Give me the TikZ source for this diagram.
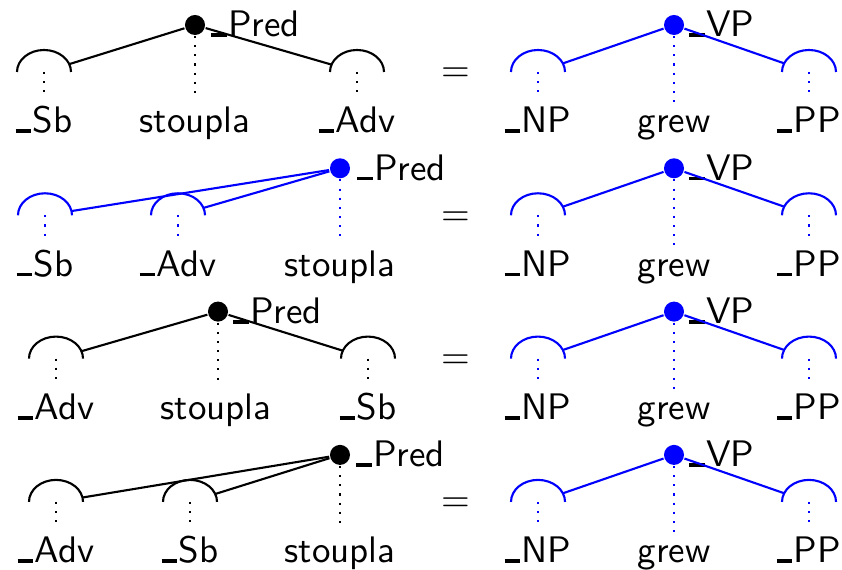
\documentclass[tikz,border=0pt]{standalone}
\usetikzlibrary{shapes.geometric}

\newcommand{\usc}{\rule{0.42em}{0.1em}\kern0.04em}

\tikzset{
  every node/.style={font=\sffamily\fontsize{10.5}{12.6}\selectfont},
  cup/.style={ellipse, minimum width=0.54cm, minimum height=0.44cm, inner sep=0pt, outer sep=0pt},
  headdot/.style={circle, fill, inner sep=0pt, minimum size=0.2cm},
  word/.style={anchor=base, inner sep=2pt},
  tag/.style={anchor=base west, inner sep=0pt}
}

\begin{document}
\begin{tikzpicture}[x=0.01cm, y=-0.01cm, line width=0.6pt]
  \useasboundingbox (0,0) rectangle (842,570);

  % _Sb stoupla _Adv
  \node[cup] (sb1) at (44,72) {};
  \node[cup] (adv1) at (357,72) {};
  \node[headdot] (p1) at (195,25) {};
  \node[tag] (pt1) at (210,37) {\usc Pred};
  \node[word] (sbw1) at (44,133) {\usc Sb};
  \node[word] (pw1) at (195,133) {stoupla};
  \node[word] (advw1) at (357,133) {\usc Adv};
  \foreach \n in {sb1,adv1}
    \draw (\n.east) arc[start angle=0, end angle=180, x radius=0.27cm, y radius=0.22cm];
  \draw (p1) -- (sb1);
  \draw (p1) -- (adv1);
  \draw[dotted] (sb1.center) -- (sbw1);
  \draw[dotted] (p1) -- (pw1);
  \draw[dotted] (adv1.center) -- (advw1);

  % _Sb _Adv stoupla
  \begin{scope}[shift={(0,143.3)}]
    \node[cup] (sb2) at (45,72) {};
    \node[cup] (adv2) at (178,72) {};
    \node[headdot, fill=blue] (p2) at (340,25) {};
    \node[tag] (pt2) at (356,37) {\usc Pred};
    \node[word] (sbw2) at (45,133) {\usc Sb};
    \node[word] (advw2) at (178,133) {\usc Adv};
    \node[word] (pw2) at (340,133) {stoupla};
    \foreach \n in {sb2,adv2}
      \draw[blue] (\n.east) arc[start angle=0, end angle=180, x radius=0.27cm, y radius=0.22cm];
    \draw[blue] (p2) -- (sb2);
    \draw[blue] (p2) -- (adv2);
    \draw[blue, dotted] (sb2.center) -- (sbw2);
    \draw[blue, dotted] (adv2.center) -- (advw2);
    \draw[blue, dotted] (p2) -- (pw2);
  \end{scope}

  % _Adv stoupla _Sb
  \begin{scope}[shift={(0,286.6)}]
    \node[cup] (adv3) at (56,72) {};
    \node[cup] (sb3) at (368,72) {};
    \node[headdot] (p3) at (218,25) {};
    \node[tag] (pt3) at (232,37) {\usc Pred};
    \node[word] (advw3) at (56,133) {\usc Adv};
    \node[word] (pw3) at (216,133) {stoupla};
    \node[word] (sbw3) at (368,133) {\usc Sb};
    \foreach \n in {adv3,sb3}
      \draw (\n.east) arc[start angle=0, end angle=180, x radius=0.27cm, y radius=0.22cm];
    \draw (p3) -- (adv3);
    \draw (p3) -- (sb3);
    \draw[dotted] (adv3.center) -- (advw3);
    \draw[dotted] (p3) -- (p3 |- pw3.north);
    \draw[dotted] (sb3.center) -- (sbw3);
  \end{scope}

  % _Adv _Sb stoupla
  \begin{scope}[shift={(0,429.9)}]
    \node[cup] (adv4) at (56,72) {};
    \node[cup] (sb4) at (190,72) {};
    \node[headdot] (p4) at (340,25) {};
    \node[tag] (pt4) at (355,37) {\usc Pred};
    \node[word] (advw4) at (56,133) {\usc Adv};
    \node[word] (sbw4) at (190,133) {\usc Sb};
    \node[word] (pw4) at (340,133) {stoupla};
    \foreach \n in {adv4,sb4}
      \draw (\n.east) arc[start angle=0, end angle=180, x radius=0.27cm, y radius=0.22cm];
    \draw (p4) -- (adv4);
    \draw (p4) -- (sb4);
    \draw[dotted] (adv4.center) -- (advw4);
    \draw[dotted] (sb4.center) -- (sbw4);
    \draw[dotted] (p4) -- (pw4);
  \end{scope}

  % = _NP grew _PP, same on every row
  \foreach \r in {0,1,2,3} {
    \begin{scope}[shift={(0,143.3*\r)}]
      \node (eq\r) at (456,75) {=};
      \node[cup] (np\r) at (538,72) {};
      \node[cup] (pp\r) at (809,72) {};
      \node[headdot, fill=blue] (vp\r) at (674,25) {};
      \node[tag] (vpt\r) at (688,37) {\usc VP};
      \node[word] (npw\r) at (538,133) {\usc NP};
      \node[word] (vpw\r) at (674,133) {grew};
      \node[word] (ppw\r) at (809,133) {\usc PP};
      \draw[blue] (np\r.east) arc[start angle=0, end angle=180, x radius=0.27cm, y radius=0.22cm];
      \draw[blue] (pp\r.east) arc[start angle=0, end angle=180, x radius=0.27cm, y radius=0.22cm];
      \draw[blue] (vp\r) -- (np\r);
      \draw[blue] (vp\r) -- (pp\r);
      \draw[blue, dotted] (np\r.center) -- (npw\r);
      \draw[blue, dotted] (vp\r) -- (vpw\r);
      \draw[blue, dotted] (pp\r.center) -- (ppw\r);
    \end{scope}
  }
\end{tikzpicture}
\end{document}
